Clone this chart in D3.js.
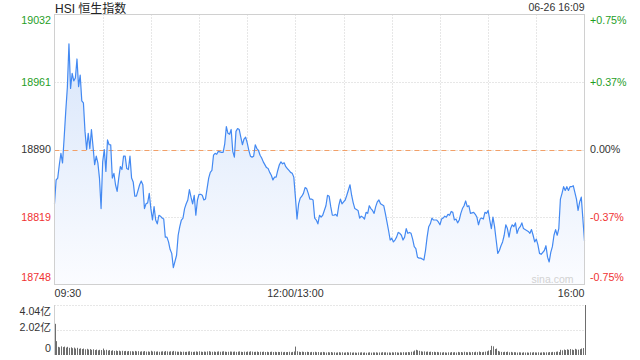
<!DOCTYPE html>
<html>
<head>
<meta charset="utf-8">
<script src="https://cdn.jsdelivr.net/npm/d3@7"></script>
<style>
  body { margin: 0; background: #fff; }
  svg { display: block; }
  text { font-family: "Liberation Sans", Arial, "Noto Sans CJK SC", sans-serif; }
</style>
</head>
<body>
<svg id="chart" width="640" height="360"></svg>
<script>
// ---- data ----
const title = "HSI 恒生指数"
const stamp = "06-26 16:09"
const prevClose = 18890
const priceTicks = [19032, 18961, 18890, 18819, 18748]
const pctTicks = ["+0.75%", "+0.37%", "0.00%", "-0.37%", "-0.75%"]
const timeTicks = ["09:30", "12:00/13:00", "16:00"]
const volTickValues = [4.04, 2.02, 0]
const volTickLabels = ["4.04亿", "2.02亿", "0"]

// minute times of the price line (trading hours only)
const times = [
  "09:30","09:31","09:32","09:33","09:34","09:35","09:36","09:37","09:38","09:39",
  "09:40","09:41","09:42","09:43","09:44","09:45","09:46","09:47","09:48","09:49",
  "09:50","09:51","09:52","09:53","09:54","09:55","09:56","09:57","09:58","09:59",
  "10:00","10:01","10:02","10:03","10:04","10:05","10:06","10:07","10:08","10:09",
  "10:10","10:11","10:12","10:13","10:14","10:15","10:16","10:17","10:18","10:19",
  "10:20","10:21","10:23","10:24","10:25","10:26","10:27","10:28","10:29",
  "10:30","10:31","10:32","10:33","10:34","10:35","10:36","10:37","10:38","10:39",
  "10:40","10:41","10:42","10:43","10:44","10:46","10:47","10:48","10:49",
  "10:50","10:51","10:52","10:53","10:54","10:55","10:56","10:57","10:58","10:59",
  "11:00","11:01","11:02","11:03","11:04","11:05","11:06","11:07","11:08","11:09",
  "11:10","11:11","11:12","11:14","11:15","11:16","11:17","11:18","11:19",
  "11:20","11:21","11:22","11:23","11:24","11:25","11:26","11:27","11:28","11:29",
  "11:30","11:31","11:32","11:33","11:34","11:35","11:36","11:37","11:38","11:39",
  "11:40","11:42","11:43","11:44","11:45","11:46","11:47","11:48","11:49",
  "11:50","11:51","11:52","11:53","11:54","11:55","11:56","11:57","11:58","11:59",
  "13:00","13:01","13:02","13:03","13:04","13:05","13:06","13:07","13:08","13:09",
  "13:10","13:11","13:12","13:13","13:14","13:15","13:16","13:17","13:18","13:19",
  "13:20","13:21","13:22","13:23","13:24","13:25","13:26","13:27","13:28","13:29",
  "13:30","13:31","13:32","13:34","13:35","13:36","13:37","13:38","13:39",
  "13:40","13:41","13:42","13:43","13:44","13:45","13:46","13:47","13:48","13:49",
  "13:50","13:51","13:52","13:53","13:54","13:55","13:56","13:57","13:58","13:59",
  "14:00","14:01","14:02","14:03","14:04","14:05","14:06","14:07","14:08","14:09",
  "14:10","14:11","14:12","14:13","14:14","14:15","14:16","14:17","14:18","14:19",
  "14:20","14:21","14:22","14:23","14:24","14:25","14:26","14:28","14:29",
  "14:30","14:31","14:32","14:33","14:34","14:35","14:36","14:37","14:38","14:39",
  "14:40","14:41","14:42","14:43","14:44","14:45","14:46","14:47","14:48","14:49",
  "14:51","14:52","14:53","14:54","14:55","14:56","14:57","14:58","14:59",
  "15:00","15:01","15:02","15:03","15:04","15:05","15:06","15:07","15:08","15:09",
  "15:10","15:11","15:12","15:13","15:14","15:15","15:16","15:17","15:18","15:19",
  "15:20","15:21","15:22","15:23","15:24","15:25","15:26","15:27","15:28","15:29",
  "15:30","15:31","15:32","15:33","15:35","15:36","15:37","15:38","15:39",
  "15:40","15:41","15:42","15:43","15:44","15:45","15:46","15:47","15:48","15:49",
  "15:50","15:51","15:52","15:53","15:54","15:55","15:56","15:57","15:58",
  "16:00"
]

const prices = [
  18833,18858,18860,18874,18886,18876,18902,18930,18955,19001,
  18954,18970,18962,18965,18985,18956,18968,18941,18939,18909,
  18890,18907,18891,18911,18893,18874,18883,18876,18860,18828,
  18877,18890,18867,18900,18895,18895,18860,18865,18853,18846,
  18860,18872,18869,18883,18883,18870,18869,18883,18860,18856,
  18841,18841,18853,18857,18853,18828,18833,18834,18844,
  18828,18816,18830,18816,18812,18821,18820,18818,18817,18798,
  18798,18793,18785,18781,18766,18779,18800,18809,18816,
  18818,18828,18833,18837,18848,18840,18833,18842,18821,18837,
  18843,18843,18842,18837,18838,18849,18860,18866,18868,18884,
  18886,18885,18888,18887,18887,18896,18914,18907,18906,
  18911,18888,18882,18909,18912,18911,18903,18895,18901,18903,
  18897,18889,18883,18882,18883,18895,18891,18889,18884,18881,
  18877,18871,18870,18866,18863,18858,18861,18861,18868,
  18874,18877,18875,18876,18872,18870,18868,18866,18865,18861,
  18840,18817,18833,18839,18841,18844,18850,18849,18844,18838,
  18838,18837,18818,18816,18812,18821,18819,18821,18826,18831,
  18842,18841,18830,18821,18821,18822,18820,18831,18838,18833,
  18835,18837,18842,18853,18842,18834,18828,18827,18826,
  18818,18820,18819,18817,18824,18823,18831,18828,18826,18823,
  18830,18835,18837,18833,18832,18831,18823,18814,18805,18795,
  18797,18793,18795,18798,18803,18802,18800,18795,18798,18807,
  18802,18803,18802,18796,18788,18786,18777,18776,18776,18775,
  18774,18784,18798,18809,18812,18818,18816,18816,18814,
  18811,18817,18818,18820,18819,18822,18821,18825,18824,18816,
  18817,18813,18816,18823,18828,18831,18836,18830,18831,18823,
  18824,18822,18819,18811,18817,18818,18817,18824,18823,
  18826,18816,18807,18819,18809,18795,18781,18784,18789,18793,
  18800,18811,18807,18798,18807,18811,18809,18813,18802,18807,
  18809,18813,18807,18806,18805,18804,18802,18806,18800,18793,
  18796,18790,18781,18780,18784,18789,18777,18772,18782,
  18788,18800,18806,18800,18807,18838,18844,18851,18847,18851,
  18847,18851,18851,18852,18845,18838,18826,18835,18840,
  18794
]

// volume per trading minute from 09:30 to 16:00, in 亿
const volumes = [
  2.52,1.12,0.66,0.62,0.70,0.64,0.68,0.60,0.66,0.58,
  0.62,0.55,0.60,0.52,0.58,0.50,0.54,0.48,0.52,0.46,
  0.50,0.44,0.48,0.42,0.46,0.40,0.44,0.38,0.42,0.40,
  0.52,0.38,0.42,0.36,0.40,0.34,0.38,0.33,0.36,0.32,
  0.35,0.30,0.34,0.31,0.33,0.29,0.32,0.30,0.31,0.28,
  0.33,0.29,0.31,0.27,0.30,0.28,0.32,0.27,0.29,0.26,
  0.34,0.28,0.30,0.27,0.29,0.26,0.28,0.30,0.27,0.32,
  0.29,0.27,0.30,0.28,0.33,0.29,0.27,0.26,0.28,0.25,
  0.27,0.25,0.26,0.28,0.30,0.26,0.25,0.27,0.29,0.26,
  0.30,0.27,0.25,0.28,0.26,0.29,0.31,0.27,0.26,0.28,
  0.25,0.27,0.29,0.26,0.28,0.30,0.27,0.25,0.26,0.28,
  0.27,0.26,0.28,0.25,0.27,0.29,0.26,0.24,0.27,0.25,
  0.28,0.26,0.30,0.27,0.25,0.26,0.28,0.24,0.26,0.25,
  0.27,0.24,0.26,0.23,0.25,0.27,0.24,0.26,0.23,0.25,
  0.24,0.26,0.22,0.25,0.23,0.24,0.26,0.22,0.25,0.28,
  0.68,0.30,0.26,0.24,0.27,0.25,0.23,0.26,0.24,0.22,
  0.25,0.23,0.26,0.22,0.24,0.21,0.23,0.25,0.22,0.20,
  0.23,0.21,0.24,0.20,0.22,0.19,0.21,0.23,0.20,0.22,
  0.19,0.21,0.23,0.20,0.22,0.19,0.21,0.20,0.18,0.21,
  0.20,0.22,0.19,0.21,0.18,0.20,0.22,0.19,0.21,0.20,
  0.22,0.19,0.21,0.20,0.23,0.21,0.22,0.20,0.21,0.19,
  0.22,0.20,0.23,0.21,0.19,0.22,0.20,0.23,0.21,0.22,
  0.24,0.22,0.26,0.28,0.36,0.42,0.38,0.34,0.30,0.27,
  0.29,0.26,0.28,0.25,0.27,0.24,0.26,0.23,0.25,0.22,
  0.22,0.20,0.23,0.21,0.19,0.22,0.20,0.24,0.21,0.23,
  0.20,0.25,0.22,0.24,0.21,0.26,0.23,0.22,0.25,0.21,
  0.24,0.22,0.26,0.23,0.28,0.24,0.22,0.25,0.27,0.30,
  0.36,0.40,0.74,0.70,0.48,0.52,0.33,0.28,0.25,0.23,
  0.26,0.24,0.27,0.22,0.25,0.21,0.23,0.22,0.20,0.22,
  0.21,0.19,0.22,0.20,0.21,0.19,0.22,0.20,0.23,0.21,
  0.20,0.22,0.19,0.21,0.23,0.20,0.22,0.21,0.24,0.22,
  0.25,0.23,0.26,0.28,0.24,0.42,0.38,0.44,0.40,0.46,
  0.42,0.48,0.44,0.40,0.50,0.45,0.43,0.47,0.52,0.56,
  5.20
]

// ---- layout ----
const plotLeft = 54.5, plotRight = 584.5, plotTop = 14.5, plotBottom = 284.5
const volTop = 305, volBottom = 355
const green = "#1f9e1f", red = "#f03232", dark = "#333"

// trading minutes since 09:30, lunch break squeezed out
function tradeMin(t) {
  let [h, m] = t.split(":").map(Number)
  let mins = h * 60 + m
  return mins <= 720 ? mins - 570 : mins - 780 + 150
}

let svg = d3.select("#chart")

let x = d3.scaleLinear().domain([0, 330]).range([plotLeft, plotRight])
let y = d3.scaleLinear()
  .domain([prevClose * (1 - 0.0075), prevClose * (1 + 0.0075)])
  .range([plotBottom, plotTop])
let yv = d3.scaleLinear().domain([0, 4.04]).range([volBottom, volTop])

let tickColor = v => v > prevClose ? green : (v < prevClose ? red : dark)

// gradient for the area under the line
let defs = svg.append("defs")
let grad = defs.append("linearGradient")
  .attr("id", "areaFill")
  .attr("gradientUnits", "userSpaceOnUse")
  .attr("x1", 0).attr("y1", plotTop).attr("x2", 0).attr("y2", plotBottom)
grad.append("stop").attr("offset", "0%").attr("stop-color", "#d4e3fa")
grad.append("stop").attr("offset", "100%").attr("stop-color", "#fbfcff")

// vertical grid, every half hour
let gridMins = d3.range(30, 330, 30)
svg.append("g").selectAll("line").data(gridMins).join("line")
  .attr("x1", d => Math.round(x(d)) + 0.5).attr("x2", d => Math.round(x(d)) + 0.5)
  .attr("y1", plotTop).attr("y2", plotBottom)
  .attr("stroke", "#cfcfcf").attr("stroke-dasharray", "1,2")

// horizontal grid
svg.append("g").selectAll("line").data(priceTicks.slice(1, 4)).join("line")
  .attr("x1", plotLeft).attr("x2", plotRight)
  .attr("y1", d => Math.round(y(d)) + 0.5).attr("y2", d => Math.round(y(d)) + 0.5)
  .attr("stroke", "#cfcfcf").attr("stroke-dasharray", "1,2")

// area + line
let pts = times.map((t, i) => ({ m: tradeMin(t), p: prices[i] }))
let area = d3.area().x(d => x(d.m)).y0(plotBottom).y1(d => y(d.p))
let line = d3.line().x(d => x(d.m)).y(d => y(d.p))
svg.append("path").datum(pts).attr("d", area).attr("fill", "url(#areaFill)")

// previous close, orange dashes
svg.append("line")
  .attr("x1", plotLeft).attr("x2", plotRight)
  .attr("y1", Math.round(y(prevClose)) + 0.5).attr("y2", Math.round(y(prevClose)) + 0.5)
  .attr("stroke", "#f2a068").attr("stroke-dasharray", "5,4")

svg.append("path").datum(pts).attr("d", line)
  .attr("fill", "none").attr("stroke", "#4389f2").attr("stroke-width", 1.2)
  .attr("stroke-linejoin", "round")

// frame
svg.append("rect")
  .attr("x", plotLeft).attr("y", plotTop)
  .attr("width", plotRight - plotLeft).attr("height", plotBottom - plotTop)
  .attr("fill", "none").attr("stroke", "#d0d0d0")

// watermark
svg.append("text").attr("x", 531.5).attr("y", 283)
  .attr("font-size", 10.5).attr("fill", "#d2d2d2").text("sina.com")

// price labels (left) and percent labels (right); end labels sit inside the frame
let labelY = v => Math.min(Math.max(y(v), plotTop + 6), plotBottom - 6.8)
svg.append("g").selectAll("text").data(priceTicks).join("text")
  .attr("x", 51).attr("y", d => labelY(d)).attr("dy", "0.35em")
  .attr("text-anchor", "end").attr("font-size", 10.7)
  .attr("fill", d => tickColor(d)).text(d => d)
svg.append("g").selectAll("text").data(pctTicks).join("text")
  .attr("x", 590).attr("y", (d, i) => labelY(priceTicks[i])).attr("dy", "0.35em")
  .attr("font-size", 10.7)
  .attr("fill", (d, i) => tickColor(priceTicks[i])).text(d => d)

// time labels
let anchors = ["start", "middle", "end"]
svg.append("g").selectAll("text").data(timeTicks).join("text")
  .attr("x", d => x(tradeMin(d.split("/").pop() === "13:00" ? "12:00" : d)))
  .attr("y", 297).attr("text-anchor", (d, i) => anchors[i])
  .attr("font-size", 10.7).attr("fill", dark).text(d => d)

// title + timestamp
svg.append("text").attr("x", 55).attr("y", 12.5)
  .attr("font-size", 12).attr("fill", "#222").text(title)
svg.append("text").attr("x", plotRight).attr("y", 10.5).attr("text-anchor", "end")
  .attr("font-size", 10.5).attr("fill", dark).text(stamp)

// ---- volume panel ----
svg.append("g").selectAll("line").data(volTickValues.slice(0, 2)).join("line")
  .attr("x1", plotLeft).attr("x2", plotRight)
  .attr("y1", d => Math.round(yv(d)) + 0.5).attr("y2", d => Math.round(yv(d)) + 0.5)
  .attr("stroke", "#cfcfcf").attr("stroke-dasharray", "1,2")
svg.append("line").attr("x1", plotLeft).attr("x2", plotLeft)
  .attr("y1", volTop).attr("y2", volBottom).attr("stroke", "#d0d0d0")

svg.append("g").selectAll("rect").data(volumes).join("rect")
  .attr("x", (d, i) => Math.round(x(i)))
  .attr("width", 1)
  .attr("y", d => Math.max(yv(d), volTop))
  .attr("height", d => volBottom - Math.max(yv(d), volTop))
  .attr("fill", "#6e6e6e")

// label offsets from their grid lines
let volLabelShift = [6.5, -2.5, -6.7]
svg.append("g").selectAll("text").data(volTickLabels).join("text")
  .attr("x", 51).attr("y", (d, i) => yv(volTickValues[i]) + volLabelShift[i])
  .attr("dy", "0.35em").attr("text-anchor", "end")
  .attr("font-size", 10.7).attr("fill", dark).text(d => d)

console.log("points", pts.length, "volume bars", volumes.length)
</script>
</body>
</html>
